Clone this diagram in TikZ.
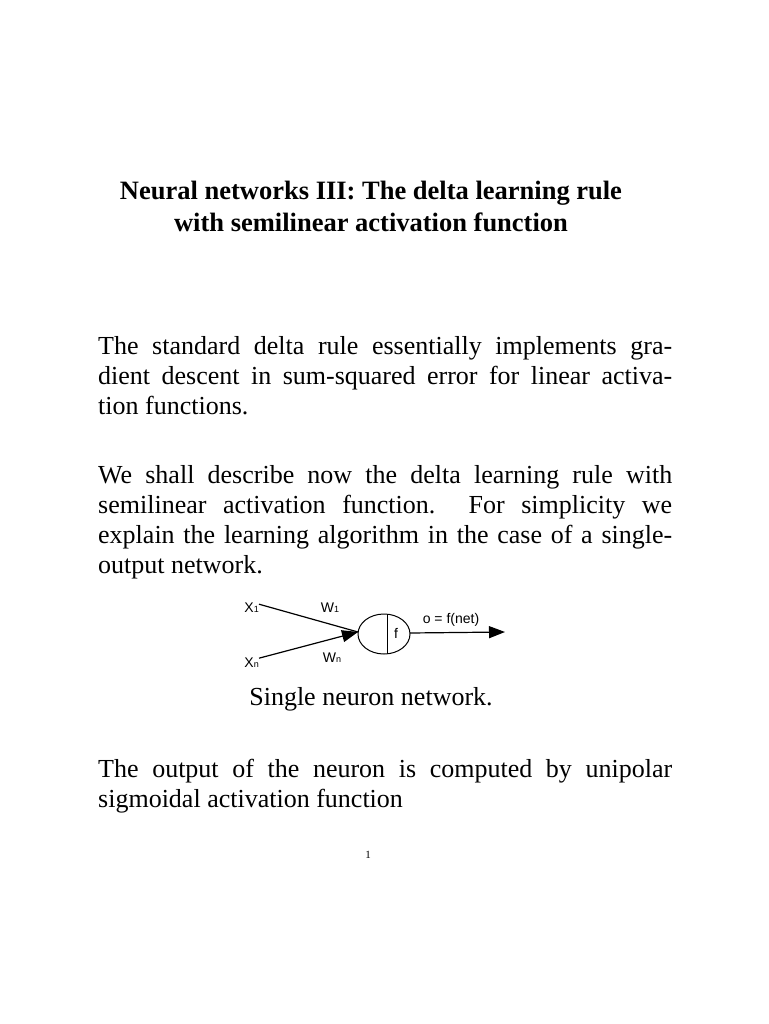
\documentclass[tikz,border=0pt]{standalone}
\usepackage{fontspec}
\setmainfont{Liberation Serif}
\newfontfamily\arialf{Liberation Sans}
\usetikzlibrary{arrows.meta}
\newcommand{\lsub}[1]{{\fontsize{9}{10}\selectfont #1}}
\begin{document}
\begin{tikzpicture}[x=1pt,y=-1pt,
 body/.style={anchor=base west,inner sep=0pt,font=\fontsize{26}{30}\selectfont},
 title/.style={anchor=base,inner sep=0pt,font=\fontsize{26.5}{30}\selectfont\bfseries},
 lab/.style={inner sep=0pt,font=\arialf\fontsize{14}{16}\selectfont},
 conn/.style={line width=1.2pt,-{Triangle[length=16pt,width=12pt]}}]
\useasboundingbox (0,0) rectangle (768,1024);
\fill[white] (0,0) rectangle (768,1024);
\node[title] (t1) at (371,200) {Neural networks III: The delta learning rule};
\node[title] (t2) at (371,232) {with semilinear activation function};
\node[body] (p1a) at (98,354) {\makebox[574pt][s]{The standard delta rule essentially implements gra-}};
\node[body] (p1b) at (98,384) {\makebox[574pt][s]{dient descent in sum-squared error for linear activa-}};
\node[body] (p1c) at (98,414) {tion functions.};
\node[body] (p2a) at (98,483) {\makebox[574pt][s]{We shall describe now the delta learning rule with}};
\node[body] (p2b) at (98,513) {\makebox[574pt][s]{semilinear activation function.\ \ For simplicity we}};
\node[body] (p2c) at (98,543) {\makebox[574pt][s]{explain the learning algorithm in the case of a single-}};
\node[body] (p2d) at (98,573) {output network.};
\node[body,anchor=base] (cap) at (371,705) {Single neuron network.};
\node[body] (p3a) at (98,777) {\makebox[574pt][s]{The output of the neuron is computed by unipolar}};
\node[body] (p3b) at (98,807) {sigmoidal activation function};
\node[inner sep=0pt,font=\fontsize{11}{12}\selectfont] (pg) at (368,855) {1};
% diagram
\draw[line width=1pt] (384,634) ellipse (26 and 20);
\coordinate (nw) at (358,632);
\coordinate (ne) at (410,633);
\draw[line width=1pt] (387,614) -- (387,654);
\node[lab] (f) at (396,633) {f};
\node[lab,anchor=base east] (x1) at (259,612) {X\lsub{1}};
\node[lab,anchor=base east] (xn) at (259,667) {X\lsub{n}};
\node[lab,anchor=base] (w1) at (330,612) {W\lsub{1}};
\node[lab,anchor=base] (wn) at (332,662) {W\lsub{n}};
\node[lab,anchor=base] (o) at (451,623) {o = f(net)};
\coordinate (out) at (505,632);
\draw[line width=1.2pt] (x1.east) ++(0,-3) -- (nw);
\draw[conn] (xn.east) ++(0,-4) -- (nw);
\draw[conn] (ne) -- (out);
\end{tikzpicture}
\end{document}
